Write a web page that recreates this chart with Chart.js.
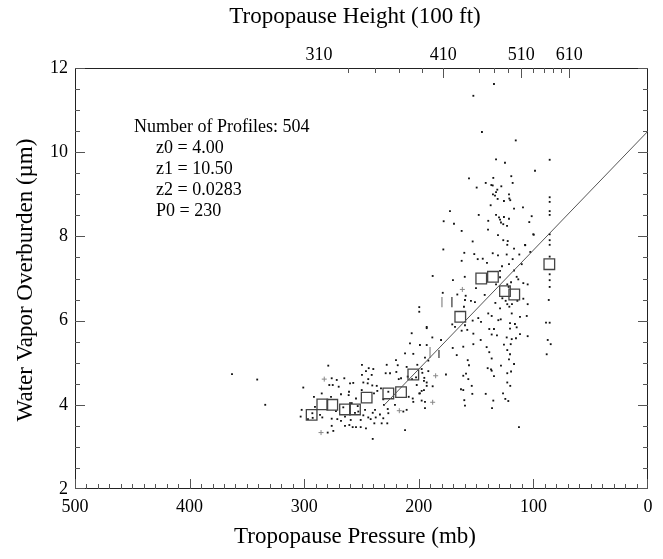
<!DOCTYPE html>
<html>
<head>
<meta charset="utf-8">
<script src="https://cdn.jsdelivr.net/npm/chart.js@4/dist/chart.umd.min.js"></script>
<style>
  html, body { margin: 0; padding: 0; background: #fff; }
</style>
</head>
<body>
<canvas id="chart" width="663" height="559"></canvas>
<script>
// Tropopause pressure (mb) vs water vapor overburden (um), 504 profiles

// individual profiles: pressure (mb) and overburden
const dotP = [
  134.4,152.4,144.9,115.4,132.6,124.8,85.8,98.6,119.3,156.2,135,118.1,141.6,136.7,135.5,149.5,128,131.5,132.6,135.3,
  133.5,121.3,121,120.2,131.2,125.7,85.8,85.8,137.3,116.9,109.1,172.8,85.8,85.8,147.7,132.6,130,125.7,121.3,101.5,
  129.1,139.4,178.3,169.3,128.3,126.3,123,103.6,139.6,100.1,107.3,
  85.8,85.8,85.8,85.8,85.8,85.8,85.8,86.6,85.8,89,87.5,84.9,88.4,
  162.6,130.9,126.3,122.4,99.7,153,178.6,122.8,116.9,107.1,160.3,135.5,130.9,123.3,112.3,151.6,102.7,148.6,144.2,162.6,
  140.5,118.1,127.4,121.3,110.2,129.1,116.9,187.9,170.2,159.9,129.1,114.6,113.2,108.8,105,119.5,122.8,132.6,121.6,150.1,
  179.1,166.4,159.1,154.5,151,159.7,160.6,142.5,133.2,127.1,124.2,122.8,121,118.7,114,108.8,105,129.1,139.4,136.4,
  130.6,128.5,118.9,111.7,105.8,120.4,116.1,170.8,168.4,159.7,153,148.1,145.7,193.1,157.7,152.4,162.6,138.5,134.4,120.4,
  114.6,136.4,131.8,123.3,118.9,115.2,111.7,105,146,125.7,119.8,188.2,180.6,170.4,161.2,152.4,140.8,138.5,122.8,120.4,
  166.9,157.3,136.4,128.3,121.3,116.9,156.2,176.3,161.2,156.8,139.9,137,134.4,122.8,119.5,194.6,196.9,
  191.7,158.8,195.5,193.1,197.5,199,194.6,163.2,161.2,153.8,153.3,160.3,159.7,141.6,136.4,135,136.1,122.8,120.2,126.5,
  124.5,121.9,112.6,
  212,204.8,199.6,199.6,206.2,193.1,
  207.7,193.1,279,249.6,243.7,239.7,228,219.9,218.4,199,265,271.6,276,249.6,246.1,241.1,244.1,228.9,225.1,219.6,
  217.5,210.6,201.3,197.5,191.7,275.1,278.1,260,257.2,248.4,244.6,240.6,236.7,267.9,269.9,260.9,261.2,258.5,254.8,249.8,
  239.1,236.2,233,231,226.6,215.5,209.7,205.9,202.4,195.2,201.8,193.1,195.5,187.9,205.3,199.6,197.5,208.8,284.7,291.5,
  300.8,276.6,290.6,302.2,286.2,284.2,292.6,292.9,303.1,296.7,260,253.3,255.7,252.8,265.9,272.3,276,271.1,267.9,264.4,
  264.4,260.6,259.4,257.7,254.8,250.7,248.4,246.9,244.1,242,240.2,238.2,237.6,238.8,233.9,232.4,231,227.1,226.6,227.5,
  230.4,220.8,213.5,210.6,204.8,194.6,212,240.2,276,274.6,279.5,250.7,246.1,
  363,341,334
];
const dotZ = [
  11.62,11.34,10.48,10.28,9.83,9.75,9.82,9.56,9.43,9.38,9.39,9.27,9.27,9.22,9.21,9.16,9.19,9.11,9.05,9.0,
  8.97,9.0,8.90,8.86,8.89,8.84,8.93,8.82,8.74,8.66,8.69,8.60,8.60,8.51,8.51,8.51,8.45,8.46,8.42,8.48,
  8.40,8.37,8.36,8.30,8.33,8.29,8.25,8.34,8.16,8.05,7.80,
  8.05,7.91,7.80,7.52,7.10,6.96,6.80,6.49,5.95,5.95,5.54,5.44,5.20,
  8.13,8.03,7.91,7.89,8.04,7.88,7.69,7.80,7.71,7.79,7.61,7.60,7.55,7.57,7.57,7.58,7.63,7.46,7.47,7.42,
  7.37,7.46,7.29,7.34,7.34,7.18,7.19,7.06,6.96,7.04,7.03,7.04,6.98,6.89,6.86,6.91,6.86,6.86,6.80,6.77,
  6.66,6.62,6.59,6.47,6.44,6.49,6.33,6.61,6.42,6.53,6.47,6.39,6.33,6.39,6.47,6.52,6.39,6.29,6.17,6.11,
  6.01,6.03,6.17,6.09,6.11,5.94,5.92,5.91,5.85,5.89,6.0,6.06,5.97,5.82,5.78,5.69,5.76,5.80,5.80,5.81,
  5.84,5.67,5.65,5.60,5.56,5.58,5.68,5.63,5.54,5.43,5.44,5.60,5.54,5.35,5.38,5.44,5.37,5.25,5.30,5.20,
  5.18,5.06,5.10,4.93,5.08,4.97,4.94,4.72,4.69,4.61,4.87,4.84,4.68,4.75,4.79,5.12,4.76,
  4.80,4.74,4.57,4.45,4.33,4.27,3.92,4.37,4.35,4.45,4.26,4.11,3.98,4.26,4.81,4.10,3.92,4.53,4.45,4.27,
  4.14,4.09,3.47,
  5.22,5.21,6.32,6.21,5.70,5.85,
  5.46,5.42,4.93,4.95,4.87,4.85,4.95,5.06,4.94,5.42,4.63,4.59,4.63,4.71,4.80,4.71,4.61,4.75,4.75,4.78,
  4.61,4.90,4.95,4.85,5.05,4.47,4.47,4.51,4.52,4.53,4.51,4.46,4.45,4.25,4.43,4.31,4.23,4.04,4.15,4.35,
  4.27,4.33,4.39,4.13,4.31,4.63,4.67,4.61,4.65,4.64,4.47,4.53,4.35,4.44,4.15,4.27,4.10,4.19,4.27,4.19,
  4.41,4.19,3.95,3.88,3.76,3.70,3.69,3.80,3.72,3.66,4.04,3.97,3.81,3.84,3.94,3.85,3.67,3.66,3.62,3.72,
  3.50,3.52,3.64,3.47,3.47,3.64,3.75,3.88,3.70,3.66,3.81,3.88,3.70,3.56,3.77,3.56,3.68,3.90,3.80,3.56,
  4.0,4.0,3.84,3.88,4.07,4.07,3.40,3.19,3.50,3.38,3.34,3.47,3.44,
  4.73,4.6,4.0
];

// lighter '+' marks
const crossP = [162, 185.3, 187.9, 217, 282.5, 285.3];
const crossZ = [6.74, 4.69, 4.06, 3.86, 4.61, 3.34];

// binned means (squares)
const binP = [293.5,284.2,275.5,264.4,255.7,245.5,226.6,215.5,204.8,163.8,145.5,135.3,124.8,116.7,86.1];
const binZ = [3.76,4.01,4.00,3.89,3.89,4.17,4.27,4.30,4.72,6.09,7.00,7.04,6.70,6.62,7.34];

// short vertical bars
const barP = [190.2, 182.4, 179.8, 171.1];
const barLo = [5.11, 5.11, 6.32, 6.32];
const barHi = [5.37, 5.30, 6.56, 6.56];

// fit: z = z0 for P > P0, z = z1 - z2*P below
const fitP = [230, 0];
const fitZ = [4.00, 10.50];

const notes = ['Number of Profiles: 504', 'z0 = 4.00', 'z1 = 10.50', 'z2 = 0.0283', 'P0 = 230'];

// top axis: tropopause height (100 ft) at its pressure
const heightLabels = ['310', '410', '510', '610'];
const heightP = [287, 178.7, 110.5, 68.8];
const heightMajorTickP = [178.7, 110.5, 68.8];
const heightMinorTickP = [262, 238, 217, 197, 147.5, 134, 122, 100.5, 91.1, 83, 75.6];

const pressureTicks = [500, 400, 300, 200, 100, 0];
const overburdenTicks = [2, 4, 6, 8, 10, 12];

const SERIF = '"Liberation Serif", "Times New Roman", serif';

const toPoints = (xs, ys) => xs.map((x, i) => ({ x: x, y: ys[i] }));

const barSets = barP.map((p, i) => ({
  type: 'line',
  data: [{ x: p, y: barLo[i] }, { x: p, y: barHi[i] }],
  borderColor: i % 2 === 0 ? '#888' : '#333',
  borderWidth: 1.2,
  pointRadius: 0,
  order: 2
}));

// frame, inward ticks and titles
const framePlugin = {
  id: 'framePlugin',
  afterDraw(chart) {
    const ctx = chart.ctx;
    const a = chart.chartArea;
    const xs = chart.scales.x;
    const ys = chart.scales.y;
    const clampX = x => Math.min(Math.max(x, a.left + 0.5), a.right - 0.5);
    const clampY = y => Math.min(Math.max(y, a.top + 0.5), a.bottom - 0.5);
    ctx.save();
    ctx.strokeStyle = '#222';
    ctx.lineWidth = 1;
    ctx.strokeRect(a.left + 0.5, a.top + 0.5, a.right - a.left - 1, a.bottom - a.top - 1);

    ctx.strokeStyle = '#555';
    ctx.beginPath();
    // bottom pressure ticks
    for (let p = 0; p <= 500; p += 10) {
      const x = clampX(Math.round(xs.getPixelForValue(p)) + 0.5);
      const len = p % 100 === 0 ? 10 : 5;
      ctx.moveTo(x, a.bottom);
      ctx.lineTo(x, a.bottom - len);
    }
    // top height ticks
    heightMajorTickP.forEach(p => {
      const x = clampX(Math.round(xs.getPixelForValue(p)) + 0.5);
      ctx.moveTo(x, a.top);
      ctx.lineTo(x, a.top + 10);
    });
    heightMinorTickP.forEach(p => {
      const x = clampX(Math.round(xs.getPixelForValue(p)) + 0.5);
      ctx.moveTo(x, a.top);
      ctx.lineTo(x, a.top + 5);
    });
    // left and right overburden ticks
    for (let z = 2; z <= 12; z += 0.5) {
      const y = clampY(Math.round(ys.getPixelForValue(z)) + 0.5);
      const len = z % 2 === 0 ? 10 : 5;
      ctx.moveTo(a.left, y);
      ctx.lineTo(a.left + len, y);
      ctx.moveTo(a.right, y);
      ctx.lineTo(a.right - len, y);
    }
    ctx.stroke();

    // titles
    ctx.fillStyle = '#000';
    ctx.font = '23px ' + SERIF;
    ctx.textAlign = 'center';
    ctx.textBaseline = 'alphabetic';
    ctx.fillText('Tropopause Height (100 ft)', 355, 23);
    ctx.fillText('Tropopause Pressure (mb)', 355, 543);
    ctx.save();
    ctx.translate(32, 280);
    ctx.rotate(-Math.PI / 2);
    ctx.fillText('Water Vapor Overburden (\u00b5m)', 0, 0);
    ctx.restore();

    // fit parameters
    ctx.font = '18px ' + SERIF;
    ctx.textAlign = 'left';
    notes.forEach((t, i) => {
      ctx.fillText(t, i === 0 ? 134 : 156, 132 + i * 21);
    });
    ctx.restore();
  }
};

new Chart(document.getElementById('chart'), {
  type: 'scatter',
  data: {
    datasets: [
      {
        data: toPoints(dotP, dotZ),
        pointStyle: 'rect',
        pointRadius: 1.3,
        backgroundColor: '#111',
        borderWidth: 0,
        order: 4
      },
      {
        data: toPoints(crossP, crossZ),
        pointStyle: 'cross',
        pointRadius: 2.5,
        borderColor: '#888',
        borderWidth: 1,
        order: 3
      },
      {
        data: toPoints(binP, binZ),
        pointStyle: 'rect',
        pointRadius: 7.5,
        backgroundColor: 'rgba(0,0,0,0)',
        borderColor: '#444',
        borderWidth: 1.3,
        order: 1
      },
      {
        type: 'line',
        data: toPoints(fitP, fitZ),
        borderColor: '#555',
        borderWidth: 1,
        pointRadius: 0,
        order: 0
      },
      ...barSets
    ]
  },
  options: {
    responsive: false,
    animation: false,
    layout: { padding: { left: 0, right: 15, top: 0, bottom: 0 } },
    plugins: { legend: { display: false }, tooltip: { enabled: false } },
    scales: {
      x: {
        type: 'linear',
        position: 'bottom',
        reverse: true,
        min: 0,
        max: 500,
        afterBuildTicks: s => { s.ticks = pressureTicks.map(v => ({ value: v })); },
        afterFit: s => { s.height = 70; },
        grid: { display: false, drawTicks: false },
        border: { display: false },
        ticks: { padding: 7, color: '#000', font: { family: SERIF, size: 18 }, maxRotation: 0, autoSkip: false }
      },
      x2: {
        type: 'linear',
        position: 'top',
        reverse: true,
        min: 0,
        max: 500,
        afterBuildTicks: s => { s.ticks = heightP.map(v => ({ value: v })); },
        afterFit: s => { s.height = 68; },
        grid: { display: false, drawTicks: false },
        border: { display: false },
        ticks: {
          padding: 2, color: '#000', font: { family: SERIF, size: 18 }, maxRotation: 0, autoSkip: false,
          callback: (v, i) => heightLabels[i]
        }
      },
      y: {
        type: 'linear',
        position: 'left',
        min: 2,
        max: 12,
        afterBuildTicks: s => { s.ticks = overburdenTicks.map(v => ({ value: v })); },
        afterFit: s => { s.width = 75; },
        grid: { display: false, drawTicks: false },
        border: { display: false },
        ticks: { padding: 7, color: '#000', font: { family: SERIF, size: 18 } }
      }
    }
  },
  plugins: [framePlugin]
});
</script>
</body>
</html>
